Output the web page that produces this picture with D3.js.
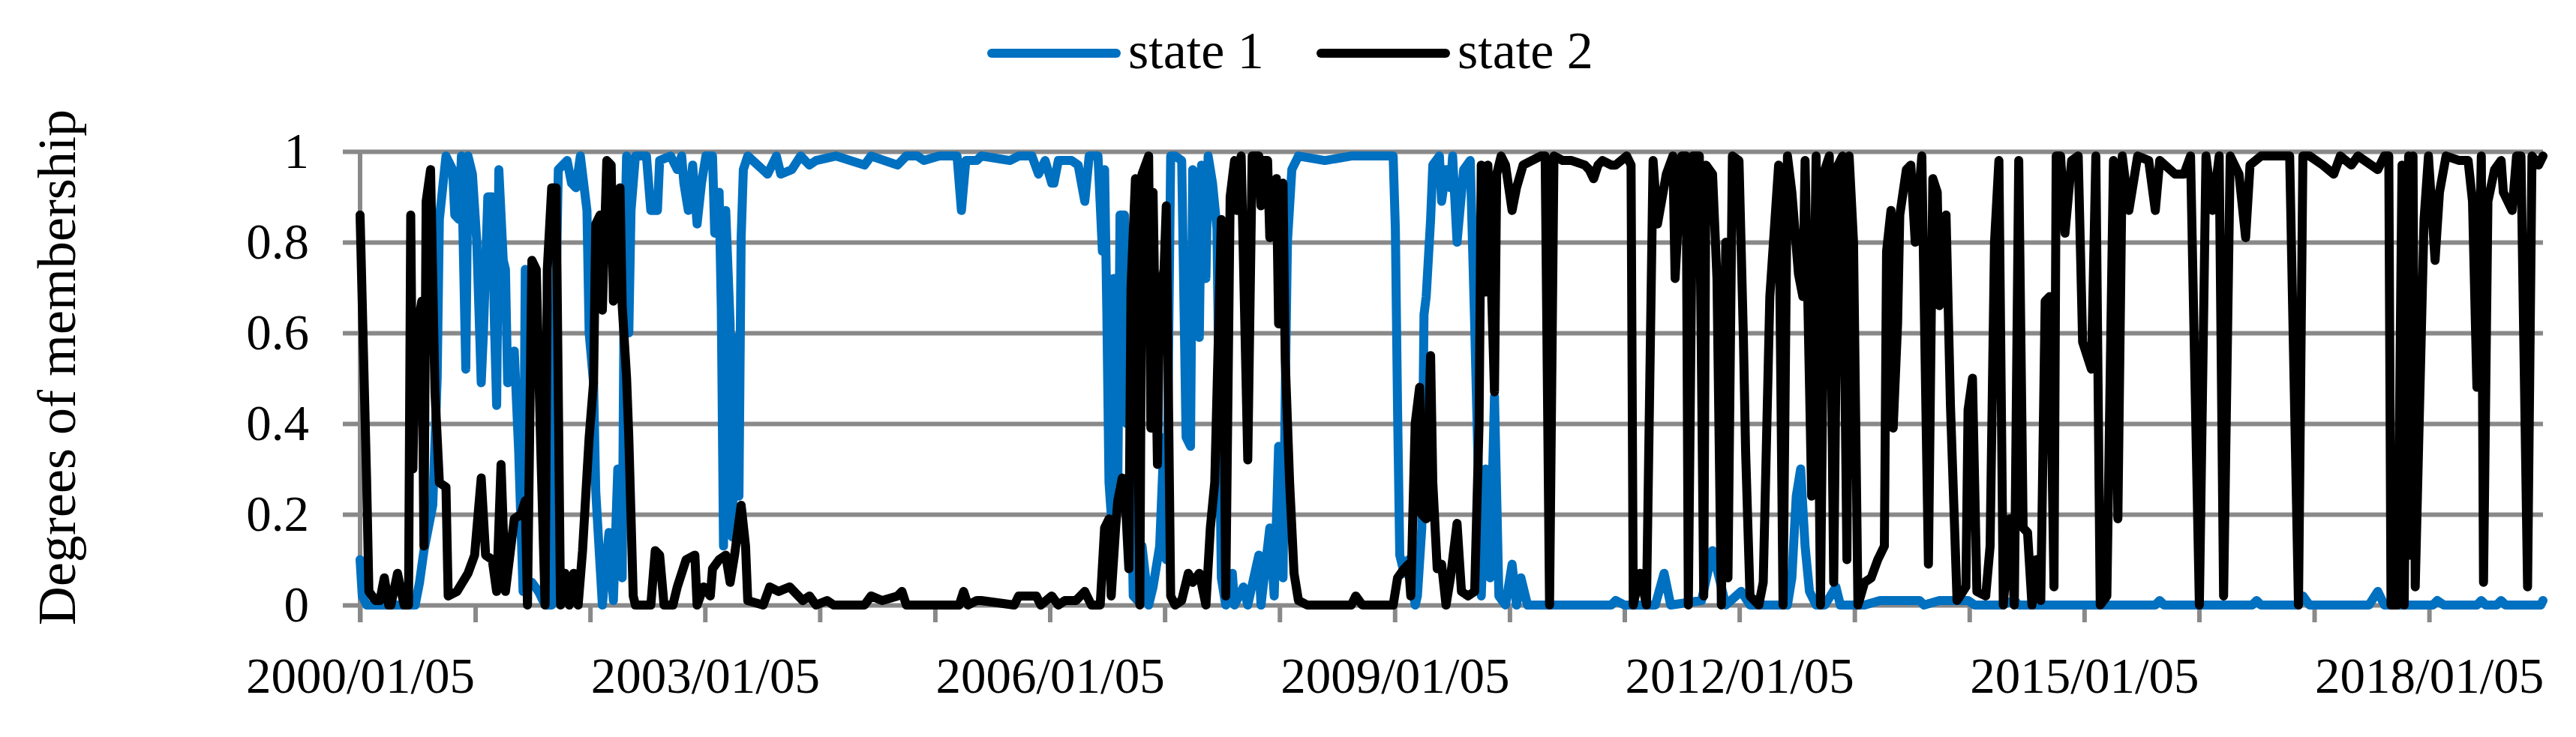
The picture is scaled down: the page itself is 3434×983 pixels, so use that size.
<!DOCTYPE html>
<html>
<head>
<meta charset="utf-8">
<script src="https://cdn.jsdelivr.net/npm/d3@7"></script>
<style>
  body { margin: 0; background: #fff; }
  svg { display: block; font-family: "Liberation Serif", "DejaVu Serif", serif; }
</style>
</head>
<body>
<svg id="chart" width="3434" height="983"></svg>
<script>
// Step 1: data as [week since 2000/01/05, degree of membership]
const startDate = new Date(Date.UTC(2000, 0, 5))
const lastWeek = 991

const seriesNames = ["state 1", "state 2"]
const seriesColors = ["#0070c0", "#000000"]

const state1 = [
  [0,0.1],[1,0.02],[3,0],[6,0],[20,0],[25,0],[27,0.05],[29,0.12],[33,0.22],[35,0.5],[36,0.85],[39,0.99],[42,0.96],[43,0.86],[45,0.85],[46,0.99],[48,0.52],[49,0.99],[51,0.95],[53,0.8],[55,0.49],[56,0.6],[58,0.9],[60,0.9],[61,0.62],[62,0.44],[63,0.96],[65,0.76],[66,0.74],[67,0.49],[69,0.55],[70,0.56],[72,0.34],[74,0.03],[75,0.74],[76,0.05],[78,0.05],[81,0.03],[84,0],[87,0],[89,0.7],[90,0.96],[94,0.98],[96,0.93],[98,0.92],[100,0.99],[101,0.95],[103,0.87],[104,0.6],[106,0.49],[107,0.25],[110,0],[113,0.16],[115,0.01],[117,0.3],[119,0.06],[120,0.78],[121,0.99],[122,0.6],[123,0.87],[125,0.99],
  [130,0.99],[132,0.87],[135,0.87],[136,0.98],[141,0.99],[144,0.96],[146,0.99],[147,0.93],[149,0.87],[151,0.97],[153,0.84],[155,0.93],[157,0.99],[160,0.99],[161,0.82],[163,0.91],[164,0.65],[165,0.13],[166,0.87],[168,0.62],[169,0.15],[170,0.46],[171,0.59],[172,0.24],[173,0.81],[174,0.96],[176,0.99],[185,0.95],[189,0.99],[191,0.95],[196,0.96],[200,0.99],[204,0.97],[207,0.98],[216,0.99],[229,0.97],[232,0.99],[244,0.97],[246,0.98],
  [248,0.99],[253,0.99],[256,0.98],[263,0.99],[271,0.99],[273,0.87],[275,0.98],[280,0.98],[282,0.99],[295,0.98],[299,0.99],[305,0.99],[308,0.95],[311,0.98],[314,0.93],[315,0.93],[317,0.98],[323,0.98],[326,0.97],[329,0.89],[331,0.99],[335,0.99],[337,0.78],[338,0.96],[339,0.65],[340,0.27],[341,0.2],[342,0.72],[343,0.72],[344,0.27],[345,0.86],[347,0.86],[348,0.4],[349,0.56],[351,0.02],[353,0.01],[355,0.13],[358,0],[360,0.04],[363,0.13],[365,0.37],[366,0.1],[368,0.99],[370,0.99],
  [373,0.98],[375,0.37],[377,0.35],[378,0.96],[381,0.59],[382,0.97],[384,0.72],[385,0.99],[387,0.93],[389,0.83],[391,0.06],[393,0],[396,0.07],[397,0],[401,0.04],[403,0],[408,0.11],[409,0],[413,0.17],[415,0.02],[417,0.35],[419,0.06],[420,0.46],[421,0.8],[423,0.96],[426,0.99],[438,0.98],[450,0.99],[461,0.99],[469,0.99],[470,0.83],[471,0.43],[472,0.11],[474,0.07],[476,0.1],[479,0],[480,0.02],[482,0.17],[483,0.64],[484,0.68],[486,0.85],[487,0.97],[490,0.99],[491,0.89],[493,0.96],[495,0.92],
  [496,0.99],[498,0.8],[501,0.96],[504,0.98],[506,0.62],[509,0.02],[511,0.3],[513,0.06],[515,0.46],[517,0.02],[520,0],[523,0.09],[525,0],[527,0.06],[530,0],[568,0],[570,0.01],[574,0],[588,0],[592,0.07],[595,0],[609,0.01],[614,0.12],[617,0.06],[620,0],
  [627,0.03],[631,0],[648,0],[650,0.06],[652,0.24],[654,0.3],[656,0.13],[658,0.03],[661,0],[665,0],[670,0.04],[672,0],[683,0],[690,0.01],[699,0.01],[708,0.01],[710,0],[717,0.01],[722,0.01],[730,0.01],[733,0],[745,0],
  [751,0.01],[753,0],[815,0],[817,0.01],[819,0],[859,0],[861,0.01],[863,0],
  [869,0],[880,0],[882,0.02],[885,0],[912,0],[916,0.03],[919,0],[941,0],[943,0.01],[946,0],[961,0],[963,0.01],[965,0],[970,0],[972,0.01],[974,0],[990,0],[991,0.01]
]

const state2 = [
  [0,0.86],[3,0.27],[4,0.03],[7,0.01],[9,0.01],[11,0.06],[13,0],[14,0],[17,0.07],[20,0],[22,0],[23,0.86],[24,0.3],[25,0.58],[28,0.67],[29,0.13],[30,0.89],[32,0.96],[34,0.47],[36,0.27],[39,0.26],[40,0.02],[44,0.03],[49,0.07],[52,0.11],[55,0.28],[57,0.11],[60,0.1],[62,0.03],[64,0.31],[66,0.03],[68,0.11],[70,0.19],[73,0.2],[75,0.23],[76,0],[78,0.76],[80,0.74],[82,0.35],[84,0],[85,0.74],[87,0.92],[89,0.92],[91,0],[93,0.07],[95,0],[97,0.07],[99,0],[101,0.12],[104,0.37],[106,0.49],[107,0.84],[109,0.86],[110,0.65],[112,0.98],[114,0.97],[115,0.67],[118,0.92],[119,0.66],[121,0.5],[122,0.37],[124,0.02],
  [125,0],[132,0],[134,0.12],[136,0.11],[138,0],[142,0],[144,0.04],[148,0.1],[152,0.11],[153,0],[156,0.04],[159,0.02],[160,0.08],[163,0.1],[166,0.11],[168,0.05],[170,0.11],[173,0.22],[175,0.13],[176,0.01],[183,0],[186,0.04],[190,0.03],[195,0.04],[201,0.01],[204,0.02],[207,0],[212,0.01],[215,0],[229,0],[232,0.02],[237,0.01],[244,0.02],[246,0.03],
  [248,0],[272,0],[274,0.03],[276,0],[280,0.01],[282,0.01],[297,0],[299,0.02],[307,0.02],[309,0],[314,0.02],[317,0],[320,0.01],[325,0.01],[329,0.03],[332,0],[336,0],[338,0.17],[340,0.19],[341,0.02],[343,0.17],[344,0.23],[346,0.28],[347,0.27],[349,0.08],[350,0.7],[352,0.94],[354,0],[355,0.95],[358,0.99],[359,0.39],[360,0.91],[362,0.31],[363,0.68],[365,0.74],[366,0.88],[368,0.02],[370,0],
  [373,0.01],[376,0.07],[378,0.05],[381,0.07],[384,0],[386,0.17],[388,0.27],[391,0.85],[392,0.62],[393,0.02],[395,0.9],[397,0.98],[398,0.87],[400,0.99],[403,0.32],[405,0.99],[408,0.99],[409,0.88],[410,0.98],[412,0.98],[413,0.81],[416,0.94],[417,0.62],[419,0.93],[420,0.54],[422,0.27],[424,0.07],[426,0.01],[430,0],[450,0],[452,0.02],[455,0],[469,0],[471,0.06],[474,0.08],[476,0.09],[477,0.02],[479,0.4],[481,0.48],[482,0.2],[484,0.19],[486,0.55],[487,0.27],[489,0.08],[491,0.09],[493,0],
  [495,0.06],[498,0.18],[500,0.03],[503,0.02],[506,0.03],[508,0.4],[509,0.97],[511,0.69],[512,0.97],[515,0.47],[516,0.95],[518,0.99],[520,0.97],[523,0.87],[525,0.92],[528,0.97],[532,0.98],[536,0.99],[538,0.99],[540,0],[542,0.99],[546,0.98],[550,0.98],[556,0.97],[558,0.96],[560,0.94],[562,0.97],[564,0.98],[568,0.97],[570,0.97],[575,0.99],[577,0.97],[578,0],[581,0.07],[584,0],[587,0.98],[589,0.84],[593,0.95],[596,0.99],[597,0.72],[600,0.99],[602,0.99],[603,0],[605,0.99],[608,0.99],[610,0.02],[611,0.97],[614,0.95],[616,0.72],[618,0],[620,0.8],
  [621,0.06],[623,0.99],[626,0.98],[628,0.59],[629,0.34],[631,0.02],[635,0],[637,0.05],[640,0.68],[644,0.97],[646,0],[648,0.99],[650,0.91],[653,0.73],[655,0.68],[656,0.98],[659,0.24],[661,0.99],[663,0],[665,0.96],[667,0.99],[669,0.05],[671,0.97],[673,0.99],[675,0.1],[676,0.99],[678,0.8],[680,0],[683,0.05],[686,0.06],[689,0.1],[692,0.13],[693,0.78],[695,0.87],[696,0.39],[698,0.62],[699,0.86],[702,0.96],[704,0.97],[706,0.8],[709,0.99],[712,0.09],[714,0.94],[716,0.91],[717,0.66],[720,0.86],[722,0.44],[725,0.01],[729,0.04],[730,0.43],[732,0.5],[734,0.03],[738,0.02],[740,0.13],[742,0.8],[744,0.98],
  [746,0],[749,0.19],[751,0],[753,0.98],[755,0.17],[757,0.16],[759,0],[761,0.1],[763,0.01],[765,0.67],[767,0.68],[769,0.04],[770,0.99],[772,0.99],[774,0.82],[777,0.98],[780,0.99],[782,0.58],[786,0.52],[788,0.99],[790,0],[793,0.02],[796,0.98],[798,0.19],[800,0.99],[803,0.87],[807,0.99],[812,0.98],[815,0.87],[817,0.98],[824,0.95],[828,0.95],[831,0.99],[835,0],[838,0.99],[841,0.87],[844,0.99],[846,0.02],[849,0.99],[853,0.95],[856,0.81],[858,0.97],[863,0.99],[869,0.99],
  [876,0.99],[880,0],[882,0.99],[885,0.99],[891,0.97],[896,0.95],[899,0.99],[904,0.97],[907,0.99],[916,0.96],[919,0.99],[921,0.99],[922,0],[925,0],[927,0.97],[928,0],[930,0.99],[931,0.11],[932,0.99],[933,0.04],[937,0.85],[939,0.99],[942,0.76],[944,0.91],[947,0.99],[953,0.98],[957,0.98],[959,0.89],[961,0.48],[963,0.99],[964,0.05],[966,0.89],[969,0.96],[972,0.98],[973,0.91],[977,0.87],[979,0.99],[981,0.99],[984,0.04],[986,0.99],[989,0.97],[991,0.99]
]

const yTicks = [0, 0.2, 0.4, 0.6, 0.8, 1]
const tickYears = d3.range(2000, 2019)
const labelEvery = 3

// Step 2: layout and scales
const margin = { top: 202, right: 44, bottom: 176, left: 480 }
const width = 3434 - margin.left - margin.right
const height = 983 - margin.top - margin.bottom

const weekDate = w => d3.utcDay.offset(startDate, w * 7)

const xScale = d3.scaleUtc().domain([startDate, weekDate(lastWeek)]).range([0, width])
const yScale = d3.scaleLinear().domain([0, 1]).range([height, 0])

const svg = d3.select("#chart")
const svgGroup = svg.append("g")
  .attr("transform", `translate(${margin.left}, ${margin.top})`)

// Step 3: axes
const gridColor = "#898989"
const tickLen = 23
const labelSize = 67

const yAxis = d3.axisLeft(yScale)
  .tickValues(yTicks)
  .tickFormat(d => d3.format("~g")(d))
  .tickSize(width + tickLen)
  .tickPadding(45)

svgGroup.append("g")
  .attr("class", "y-axis")
  .attr("transform", `translate(${width}, 0)`)
  .call(yAxis)
  .call(g => g.select(".domain").remove())
  .call(g => g.selectAll("line").attr("stroke", gridColor).attr("stroke-width", 6))
  .call(g => g.selectAll("text")
    .attr("font-family", "Liberation Serif, serif")
    .attr("font-size", labelSize)
    .attr("fill", "#000"))

const xAxis = d3.axisBottom(xScale)
  .tickValues(tickYears.map(y => new Date(Date.UTC(y, 0, 5))))
  .tickFormat((d, i) => i % labelEvery === 0 ? d3.utcFormat("%Y/%m/%d")(d) : "")
  .tickSize(tickLen)
  .tickPadding(46)

svgGroup.append("g")
  .attr("class", "x-axis")
  .attr("transform", `translate(0, ${height})`)
  .call(xAxis)
  .call(g => g.select(".domain").remove())
  .call(g => g.selectAll("line").attr("stroke", gridColor).attr("stroke-width", 6))
  .call(g => g.selectAll("text")
    .attr("font-family", "Liberation Serif, serif")
    .attr("font-size", labelSize)
    .attr("fill", "#000"))

// vertical axis line
svgGroup.append("line")
  .attr("x1", 0).attr("x2", 0)
  .attr("y1", 0).attr("y2", height + tickLen)
  .attr("stroke", gridColor)
  .attr("stroke-width", 6)

// Step 4: the two membership lines
const line = d3.line()
  .x(d => xScale(weekDate(d[0])))
  .y(d => yScale(d[1]))

svgGroup.selectAll(".data-line")
  .data([state1, state2])
  .join("path")
  .attr("class", "data-line")
  .attr("d", line)
  .attr("fill", "none")
  .attr("stroke", (d, i) => seriesColors[i])
  .attr("stroke-width", 12)
  .attr("stroke-linejoin", "round")
  .attr("stroke-linecap", "round")

// Step 5: legend and axis title
const legendX = [1322, 1761]
const legend = svg.append("g").attr("class", "legend")

seriesNames.forEach((name, i) => {
  legend.append("line")
    .attr("x1", legendX[i]).attr("x2", legendX[i] + 166)
    .attr("y1", 71).attr("y2", 71)
    .attr("stroke", seriesColors[i])
    .attr("stroke-width", 12)
    .attr("stroke-linecap", "round")
  legend.append("text")
    .attr("x", legendX[i] + 182)
    .attr("y", 91)
    .attr("font-size", 70)
    .text(name)
})

svg.append("text")
  .attr("transform", "translate(100, 490) rotate(-90)")
  .attr("text-anchor", "middle")
  .attr("font-size", 72)
  .text("Degrees of membership")
</script>
</body>
</html>
